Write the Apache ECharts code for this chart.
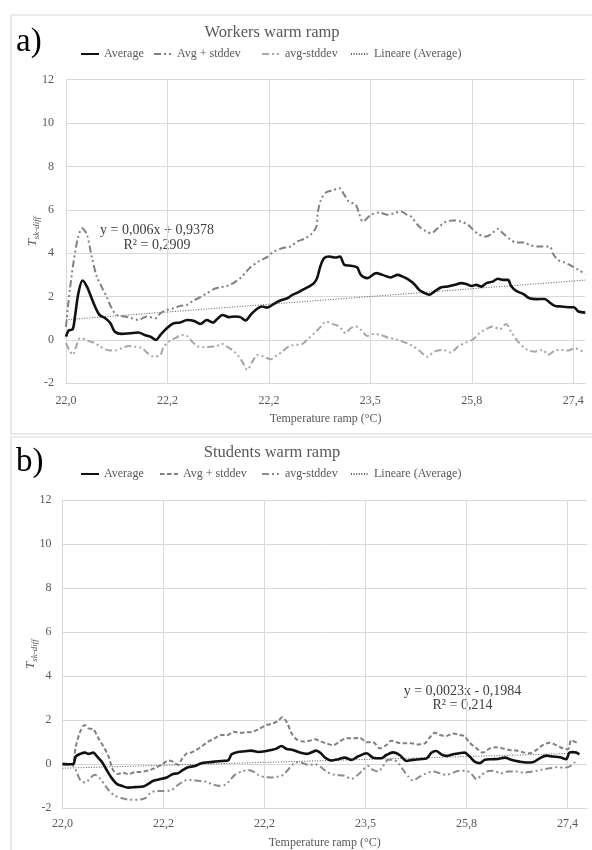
<!DOCTYPE html>
<html>
<head>
<meta charset="utf-8">
<script src="https://cdn.jsdelivr.net/npm/echarts@6.0.0/dist/echarts.min.js"></script>
<style>
  html, body { margin: 0; padding: 0; background: #ffffff; }
  #chart { width: 592px; height: 850px; }
</style>
</head>
<body>
<div id="chart"></div>
<script>
// ---------- data (x = sample position along the ramp, y = T sk-diff) ----------
const xTickLabels = ['22,0', '22,2', '22,2', '23,5', '25,8', '27,4'];
const yTickValues = { min: -2, max: 12, step: 2 };
const xTickStep = 16;

const workersAvg = [[0,0.15],[0.4,0.43],[1.05,0.49],[1.4,1.05],[1.95,2.15],[2.6,2.74],[3.3,2.46],[4.05,1.92],[4.7,1.46],[5.3,1.15],[6.2,1.0],[7.0,0.77],[7.7,0.38],[8.8,0.28],[10.1,0.31],[11.4,0.34],[12.5,0.22],[13.3,0.15],[14.2,0.0],[14.9,0.23],[15.9,0.54],[17,0.77],[18,0.8],[19.1,0.92],[20.1,0.89],[21.2,0.74],[22.2,0.92],[23.2,0.8],[23.8,0.95],[24.7,1.15],[25.7,1.05],[26.7,1.08],[27.5,1.05],[28.3,0.9],[29.1,1.15],[29.9,1.38],[30.9,1.54],[31.7,1.49],[32.8,1.66],[33.8,1.82],[34.9,1.92],[35.7,2.08],[36.5,2.18],[37.3,2.31],[38.3,2.46],[39.1,2.62],[39.6,2.85],[40.1,3.38],[40.7,3.77],[41.5,3.85],[42.5,3.8],[43.2,3.85],[43.9,3.46],[44.9,3.42],[45.9,3.35],[46.5,3.0],[47.5,2.85],[48.9,3.08],[49.9,3.0],[51.2,2.88],[52.3,3.0],[53.1,2.92],[53.9,2.8],[54.9,2.58],[55.7,2.31],[56.3,2.2],[57.3,2.08],[58.1,2.23],[59.2,2.43],[60.2,2.46],[61.3,2.54],[62.3,2.62],[63.1,2.58],[64,2.49],[64.7,2.54],[65.5,2.46],[66.3,2.62],[67.3,2.69],[68.1,2.82],[68.9,2.77],[69.7,2.77],[70.2,2.49],[71,2.26],[72.1,2.12],[73.1,1.92],[74.2,1.88],[75.5,1.89],[76.3,1.72],[77.1,1.57],[78.1,1.54],[79.2,1.51],[80.1,1.51],[80.8,1.31],[81.9,1.26]];

const workersPlus = [[0,0.6],[0.6,2.3],[1.4,4.0],[1.95,4.77],[2.5,5.15],[3.3,4.85],[4.05,3.85],[4.85,2.92],[5.6,2.46],[6.4,2.0],[7.2,1.46],[8.0,1.15],[9.3,1.08],[10.4,1.0],[11.4,0.92],[12.75,1.08],[14.1,1.0],[14.9,1.23],[15.9,1.38],[17,1.46],[18,1.57],[19.1,1.62],[20.1,1.82],[21.2,1.97],[22.2,2.15],[23.3,2.34],[24.3,2.43],[25.4,2.49],[26.4,2.62],[27.5,2.85],[28.3,3.1],[29.1,3.35],[30.4,3.62],[31.7,3.82],[32.8,4.08],[34.1,4.23],[35.4,4.31],[36.5,4.54],[37.8,4.69],[38.8,4.92],[39.5,5.23],[39.7,5.85],[40.2,6.46],[41,6.8],[42,6.89],[43.1,7.0],[43.9,6.69],[44.6,6.38],[45.7,6.23],[46.2,5.85],[46.8,5.46],[48.1,5.77],[49.4,5.88],[50.7,5.77],[51.8,5.85],[52.8,5.92],[53.9,5.75],[54.4,5.69],[55.7,5.23],[56.8,5.0],[57.6,4.92],[58.6,5.15],[59.7,5.42],[61,5.51],[62.3,5.46],[63.4,5.31],[64.2,5.08],[65.2,4.85],[66.3,4.77],[67.3,4.95],[68.1,5.12],[68.9,4.92],[70,4.65],[71,4.49],[72.3,4.49],[73.1,4.38],[74.2,4.31],[75.2,4.31],[76.3,4.31],[76.8,3.97],[77.6,3.69],[78.6,3.57],[79.7,3.42],[80.8,3.23],[81.9,3.05]];

const workersMinus = [[0,-0.15],[0.5,-0.46],[1.05,-0.69],[1.6,-0.31],[2.2,0.08],[3,0.03],[3.8,-0.08],[4.6,-0.15],[5.4,-0.31],[6.4,-0.46],[7.7,-0.49],[8.8,-0.38],[9.9,-0.28],[10.9,-0.31],[12,-0.38],[12.9,-0.62],[13.8,-0.77],[14.9,-0.69],[15.3,-0.38],[16.2,-0.08],[17.2,0.08],[18.3,0.23],[19.1,0.18],[19.9,-0.08],[20.7,-0.28],[21.7,-0.34],[22.8,-0.31],[23.8,-0.28],[24.6,-0.18],[25.4,-0.31],[26.4,-0.5],[27.2,-0.75],[27.8,-1.0],[28.6,-1.38],[29.4,-1.0],[30.2,-0.69],[31.2,-0.77],[32.3,-0.89],[33.1,-0.74],[34.1,-0.54],[35.2,-0.28],[36.2,-0.23],[37.3,-0.18],[38.3,0.08],[39.4,0.38],[40.2,0.62],[41,0.85],[42,0.74],[43.1,0.62],[44.1,0.31],[44.9,0.54],[45.7,0.62],[46.8,0.38],[47.5,0.18],[48.6,0.28],[49.7,0.23],[50.7,0.11],[52,0.03],[53.1,-0.08],[54.4,-0.23],[55.7,-0.49],[57,-0.77],[58.1,-0.54],[59.4,-0.46],[60.7,-0.58],[61.8,-0.31],[63.1,-0.12],[64.2,0.03],[65.2,0.31],[66.3,0.51],[67.3,0.62],[68.4,0.49],[69.4,0.74],[70.2,0.38],[71.3,-0.08],[72.6,-0.43],[73.9,-0.54],[75.2,-0.46],[76,-0.69],[77.1,-0.49],[78.1,-0.46],[79.2,-0.49],[80.2,-0.38],[81.5,-0.54]];

const workersTrend = [[0,0.93],[81.9,2.76]];

const studentsAvg = [[0,0],[0.9,0],[1.7,0],[2.1,0.35],[2.8,0.47],[3.6,0.53],[4.1,0.47],[4.9,0.53],[5.4,0.38],[6.2,0.12],[7,-0.26],[7.8,-0.63],[8.6,-0.89],[9.4,-0.98],[10.4,-1.06],[11.5,-1.04],[12.8,-1.01],[13.6,-0.89],[14.4,-0.75],[15.4,-0.68],[16.5,-0.6],[17.5,-0.44],[18.3,-0.41],[19.1,-0.26],[19.9,-0.14],[21,-0.08],[22,0.05],[23.1,0.09],[24.1,0.12],[25.2,0.15],[26.2,0.17],[26.8,0.45],[27.8,0.56],[28.9,0.59],[29.9,0.62],[31,0.56],[32.1,0.59],[33.1,0.65],[33.9,0.71],[34.7,0.83],[35.5,0.69],[36.5,0.65],[37.6,0.53],[38.7,0.47],[39.4,0.53],[40.2,0.62],[41,0.48],[41.6,0.3],[42.6,0.17],[43.7,0.23],[44.7,0.3],[45.8,0.2],[46.8,0.35],[48.2,0.5],[49.2,0.3],[50.5,0.27],[51.3,0.42],[52.4,0.54],[53.4,0.42],[54.5,0.15],[55.5,0.2],[56.6,0.23],[57.7,0.27],[58.5,0.53],[59.2,0.6],[60,0.45],[60.8,0.38],[61.9,0.45],[62.9,0.5],[63.7,0.53],[64.5,0.35],[65.3,0.12],[66.1,0.05],[66.9,0.2],[68,0.23],[69,0.24],[70.1,0.3],[71.1,0.2],[72.4,0.12],[73.5,0.08],[74.5,0.09],[75.6,0.27],[76.7,0.39],[77.7,0.35],[78.8,0.32],[79.8,0.23],[80.3,0.53],[80.9,0.56],[81.4,0.53],[81.9,0.45]];

const studentsPlus = [[0,0.05],[1.5,0],[2.1,0.8],[2.8,1.48],[3.5,1.78],[4.1,1.63],[4.9,1.58],[5.7,1.18],[6.5,0.8],[7.3,0.35],[8,-0.26],[8.8,-0.44],[9.6,-0.38],[10.4,-0.45],[11.5,-0.36],[12.5,-0.35],[13.9,-0.26],[14.9,-0.14],[15.7,-0.03],[16.8,0.17],[17.5,0.12],[18.3,-0.03],[18.9,0.23],[19.7,0.5],[20.4,0.53],[21.2,0.65],[22,0.8],[23.1,1.03],[24.1,1.18],[25.2,1.33],[26.2,1.33],[27.1,1.48],[28.1,1.43],[29.2,1.45],[30.2,1.48],[31.3,1.63],[32.3,1.78],[33.4,1.86],[34.2,1.98],[34.8,2.13],[35.5,1.93],[36.3,1.4],[37.1,1.13],[38.1,1.03],[39.2,1.07],[40,1.13],[40.8,1.05],[41.8,0.95],[42.9,0.87],[43.9,1.03],[45,1.18],[46.1,1.18],[47.1,1.2],[48.2,1.0],[49.2,1.0],[50.3,0.72],[51.3,0.87],[52.1,1.07],[53.2,0.98],[54.2,0.95],[55.3,0.95],[56.3,0.9],[57.4,0.95],[58.2,1.22],[59,1.43],[59.8,1.33],[60.8,1.28],[61.9,1.4],[62.9,1.33],[63.7,1.28],[64.5,0.98],[65.6,0.72],[66.6,0.53],[67.7,0.72],[68.7,0.77],[69.8,0.72],[70.8,0.65],[71.9,0.62],[73,0.54],[74,0.5],[75.1,0.65],[76.1,0.87],[77.2,0.98],[78.2,0.87],[79.3,0.72],[80.1,0.68],[80.6,1.1],[81.1,1.03],[81.7,0.95]];

const studentsMinus = [[0,0],[1.7,-0.08],[2.2,-0.33],[2.8,-0.71],[3.6,-0.83],[4.4,-0.63],[5.1,-0.48],[5.9,-0.63],[6.7,-0.94],[7.5,-1.24],[8.3,-1.43],[9.4,-1.54],[10.7,-1.61],[12,-1.61],[13.1,-1.54],[13.9,-1.31],[14.9,-1.21],[16,-1.21],[17.3,-1.16],[18.3,-0.94],[19.4,-0.74],[20.4,-0.71],[21.5,-0.75],[22.6,-0.78],[23.6,-0.89],[24.7,-0.98],[25.7,-0.94],[26.5,-0.74],[27.3,-0.48],[28.4,-0.33],[29.4,-0.26],[30.2,-0.33],[31,-0.48],[32.1,-0.59],[33.1,-0.6],[34.2,-0.56],[35,-0.48],[35.7,-0.26],[36.5,0.0],[37.3,0.1],[38.1,0.05],[38.9,-0.03],[40,0],[40.8,-0.1],[41.8,-0.33],[43.1,-0.48],[44.5,-0.51],[45.8,-0.66],[46.8,-0.48],[47.6,-0.26],[48.4,-0.08],[49.2,-0.26],[50,-0.33],[50.8,-0.08],[51.6,0.2],[52.4,0.2],[53.2,0.05],[54,-0.26],[54.8,-0.56],[55.5,-0.74],[56.6,-0.56],[57.7,-0.41],[58.7,-0.33],[59.8,-0.41],[60.8,-0.48],[61.9,-0.38],[62.9,-0.29],[64,-0.3],[64.8,-0.44],[65.6,-0.68],[66.4,-0.48],[67.2,-0.33],[68.2,-0.29],[69.5,-0.41],[70.6,-0.33],[71.9,-0.33],[73,-0.38],[74,-0.35],[75.1,-0.3],[76.1,-0.23],[77.2,-0.18],[78.2,-0.14],[79.6,-0.15],[80.4,-0.1],[81.1,0.08],[81.7,-0.03]];

const studentsTrend = [[0,-0.18],[81.9,0.5]];

const seriesNames = ['Average', 'Avg + stddev', 'avg-stddev', 'Lineare (Average)'];
const panelTitles = ['Workers warm ramp', 'Students warm ramp'];
const panelLetters = ['a)', 'b)'];
const equations = ['y = 0,006x + 0,9378\nR\u00b2 = 0,2909', 'y = 0,0023x - 0,1984\nR\u00b2 = 0,214'];
const xAxisTitle = 'Temperature ramp (\u00b0C)';

// ---------- styling ----------
const FONT = 'Liberation Serif';
const GREY_TXT = '#595959';
const GRID_CLR = '#d9d9d9';

function xLabel(v) {
  const i = Math.round(v / xTickStep);
  if (Math.abs(v - i * xTickStep) < 1e-6 && xTickLabels[i] !== undefined) return xTickLabels[i];
  return '';
}

function makeX(gridIndex, max, margin, nameGap) {
  return {
    type: 'value', gridIndex, min: 0, max, interval: xTickStep,
    axisLine: { show: true, onZero: false, lineStyle: { color: GRID_CLR, width: 1 } },
    axisTick: { show: false },
    axisLabel: { formatter: xLabel, color: GREY_TXT, fontSize: 12, fontFamily: FONT, margin, showMaxLabel: false },
    splitLine: { show: true, showMaxLine: false, lineStyle: { color: GRID_CLR, width: 1 } },
    name: xAxisTitle, nameLocation: 'middle', nameGap, nameMoveOverlap: false,
    nameTextStyle: { color: GREY_TXT, fontSize: 12, fontFamily: FONT }
  };
}
function makeY(gridIndex, margin, nameGap) {
  return {
    type: 'value', gridIndex, min: yTickValues.min, max: yTickValues.max, interval: yTickValues.step,
    axisLine: { show: false }, axisTick: { show: false },
    axisLabel: { color: GREY_TXT, fontSize: 12, fontFamily: FONT, margin },
    splitLine: { show: true, lineStyle: { color: GRID_CLR, width: 1 } },
    name: '{t|T}{s|sk-diff}', nameLocation: 'middle', nameGap, nameRotate: 90, nameMoveOverlap: false,
    nameTextStyle: {
      color: GREY_TXT, fontFamily: FONT, fontStyle: 'italic',
      rich: {
        t: { fontSize: 13, fontStyle: 'italic', fontFamily: FONT, color: GREY_TXT, lineHeight: 16 },
        s: { fontSize: 9, fontStyle: 'italic', fontFamily: FONT, color: GREY_TXT, verticalAlign: 'bottom' }
      }
    }
  };
}

const DASH_DOT_DOT = [7, 3, 2, 3, 2, 3];
const DASHED = [4.5, 2.5];
const DOTTED = [1, 1.6];

function lineSeries(name, data, idx, color, width, type, smooth) {
  return {
    name, type: 'line', xAxisIndex: idx, yAxisIndex: idx, data,
    symbol: 'none', smooth: smooth, animation: false,
    itemStyle: { color },
    lineStyle: { color, width, type, cap: 'butt' },
    emphasis: { disabled: true }
  };
}
const P = 'b:';
const series = [
  lineSeries(seriesNames[3], workersTrend, 0, '#595959', 1, DOTTED, false),
  lineSeries(seriesNames[2], workersMinus, 0, '#a6a6a6', 2, DASH_DOT_DOT, 0.3),
  lineSeries(seriesNames[1], workersPlus, 0, '#808080', 2, DASH_DOT_DOT, 0.3),
  lineSeries(seriesNames[0], workersAvg, 0, '#111111', 2.6, 'solid', 0.3),
  lineSeries(P + seriesNames[3], studentsTrend, 1, '#595959', 1, DOTTED, false),
  lineSeries(P + seriesNames[2], studentsMinus, 1, '#8a8a8a', 2, DASH_DOT_DOT, 0.3),
  lineSeries(P + seriesNames[1], studentsPlus, 1, '#808080', 2, DASHED, 0.3),
  lineSeries(P + seriesNames[0], studentsAvg, 1, '#111111', 2.6, 'solid', 0.3)
];

function legendItem(name, left, top) {
  return {
    data: [name], left, top, padding: 0, itemWidth: 18, itemHeight: 10, selectedMode: false,
    itemStyle: { opacity: 0, borderWidth: 0 },
    formatter: n => n.indexOf(P) === 0 ? n.slice(P.length) : n,
    textStyle: { color: GREY_TXT, fontSize: 12, fontFamily: FONT }
  };
}
const legends = [
  legendItem(seriesNames[0], 80, 48), legendItem(seriesNames[1], 153, 48),
  legendItem(seriesNames[2], 261, 48), legendItem(seriesNames[3], 350, 48),
  legendItem(P + seriesNames[0], 80, 468), legendItem(P + seriesNames[1], 159, 468),
  legendItem(P + seriesNames[2], 261, 468), legendItem(P + seriesNames[3], 350, 468)
];

function txt(text, x, y, size, fill, align, extra) {
  return {
    type: 'text', x, y, silent: true,
    style: Object.assign({ text, fontSize: size, fontFamily: FONT, fill, align, verticalAlign: 'middle' }, extra || {})
  };
}

const option = {
  animation: false,
  backgroundColor: '#ffffff',
  textStyle: { fontFamily: FONT },
  grid: [
    { left: 66, right: 6.7, top: 79.7, height: 303.6 },
    { left: 62.5, right: 5, top: 500, height: 308.3 }
  ],
  xAxis: [makeX(0, 81.9, 12, 30), makeX(1, 83.1, 10, 28.5)],
  yAxis: [makeY(0, 12, 25), makeY(1, 11, 23.5)],
  legend: legends,
  series,
  graphic: [
    { type: 'rect', silent: true, shape: { x: 11, y: 15, width: 620, height: 419 }, style: { fill: 'none', stroke: '#d9d9d9', lineWidth: 1.2 } },
    { type: 'rect', silent: true, shape: { x: 11, y: 437, width: 620, height: 440 }, style: { fill: 'none', stroke: '#d9d9d9', lineWidth: 1.2 } },
    txt(panelLetters[0], 16, 42, 33, '#000000', 'left'),
    txt(panelLetters[1], 16, 462, 33, '#000000', 'left'),
    txt(panelTitles[0], 272, 33, 16.5, GREY_TXT, 'center'),
    txt(panelTitles[1], 272, 453, 16.5, GREY_TXT, 'center'),
    txt(equations[0], 157, 237.5, 14, '#404040', 'center', { lineHeight: 15 }),
    txt(equations[1], 462.5, 698.5, 14, '#404040', 'center', { lineHeight: 14 })
  ]
};

const chart = echarts.init(document.getElementById('chart'), null, { renderer: 'canvas', width: 592, height: 850 });
chart.setOption(option);
</script>
</body>
</html>
